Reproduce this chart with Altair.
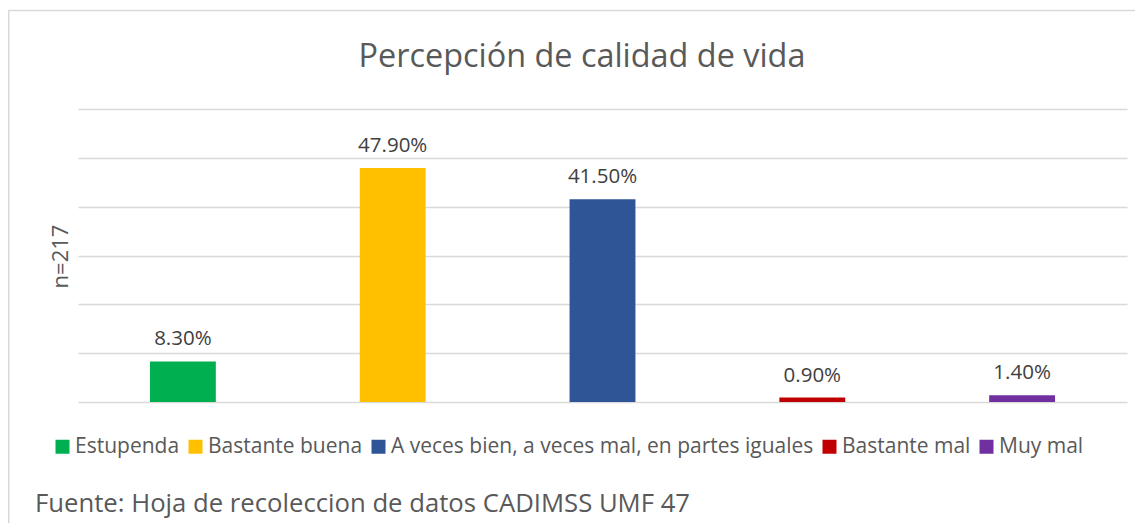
import altair as alt
import pandas as pd

categories = ["Estupenda", "Bastante buena", "A veces bien, a veces mal, en partes iguales", "Bastante mal", "Muy mal"]
values = [8.3, 47.9, 41.5, 0.9, 1.4]
labels = ["8.30%", "47.90%", "41.50%", "0.90%", "1.40%"]
colors = ["#00B050", "#FFC000", "#2F5597", "#C00000", "#7030A0"]
grid_values = [0, 10, 20, 30, 40, 50, 60]

df = pd.DataFrame({"cat": categories, "val": values, "lab": labels})

FONT = "Open Sans"
W, H = 1049, 293

x_enc = alt.X("cat:N", sort=categories,
              scale=alt.Scale(paddingInner=0.686, paddingOuter=0.343),
              axis=alt.Axis(labels=False, ticks=False, domain=False, title=None, grid=False))
y_enc = alt.Y("val:Q", scale=alt.Scale(domain=[0, 60]),
              axis=alt.Axis(values=grid_values, labels=False, ticks=False, domain=False,
                            grid=True, gridColor="#D9D9D9", gridWidth=1.5,
                            title="n=217", titleFont=FONT, titleFontSize=22,
                            titleFontWeight="normal", titleColor="#595959",
                            titleAngle=270, titleBaseline="middle", titleAlign="center",
                            titleX=-18, titleY=147))

base = alt.Chart(df)

bars = base.mark_bar().encode(
    x=x_enc,
    y=y_enc,
    color=alt.Color("cat:N", sort=categories,
                    scale=alt.Scale(domain=categories, range=colors),
                    legend=alt.Legend(title=None, orient="none", direction="horizontal",
                                      legendX=-26, legendY=327,
                                      symbolType="square", symbolSize=196,
                                      symbolStrokeWidth=0, labelFont=FONT,
                                      labelFontSize=21, labelColor="#595959",
                                      labelOffset=2, columnPadding=5,
                                      columns=5, labelLimit=700)),
)

text = base.mark_text(font=FONT, fontSize=20.5, color="#404040",
                      baseline="alphabetic", dy=-16).encode(
    x=alt.X("cat:N", sort=categories),
    y="val:Q",
    text="lab:N",
)

border = alt.Chart(pd.DataFrame({"a": [0]})).mark_rect(
    fillOpacity=0, stroke="#D9D9D9", strokeWidth=1.5).encode(
    x=alt.value(-69.25), x2=alt.value(1200), y=alt.value(-98.5), y2=alt.value(600))

title = alt.Chart(pd.DataFrame({"t": ["Percepción de calidad de vida"]})).mark_text(
    font=FONT, fontSize=32.4, color="#595959", align="center", baseline="alphabetic").encode(
    x=alt.value(504), y=alt.value(-42), text="t:N")

footer = alt.Chart(pd.DataFrame({"t": ["Fuente: Hoja de recoleccion de datos CADIMSS UMF 47"]})).mark_text(
    font=FONT, fontSize=25.7, color="#595959", align="left", baseline="alphabetic").encode(
    x=alt.value(-43), y=alt.value(403), text="t:N")

chart = alt.layer(border, bars, text, title, footer).properties(
    width=W, height=H,
    autosize=alt.AutoSizeParams(type="none"),
    padding={"left": 70, "top": 101, "right": 8, "bottom": 121},
).configure(background="white").configure_view(stroke=None)

chart.save("out.html", embed_options={"renderer": "svg", "actions": False})
